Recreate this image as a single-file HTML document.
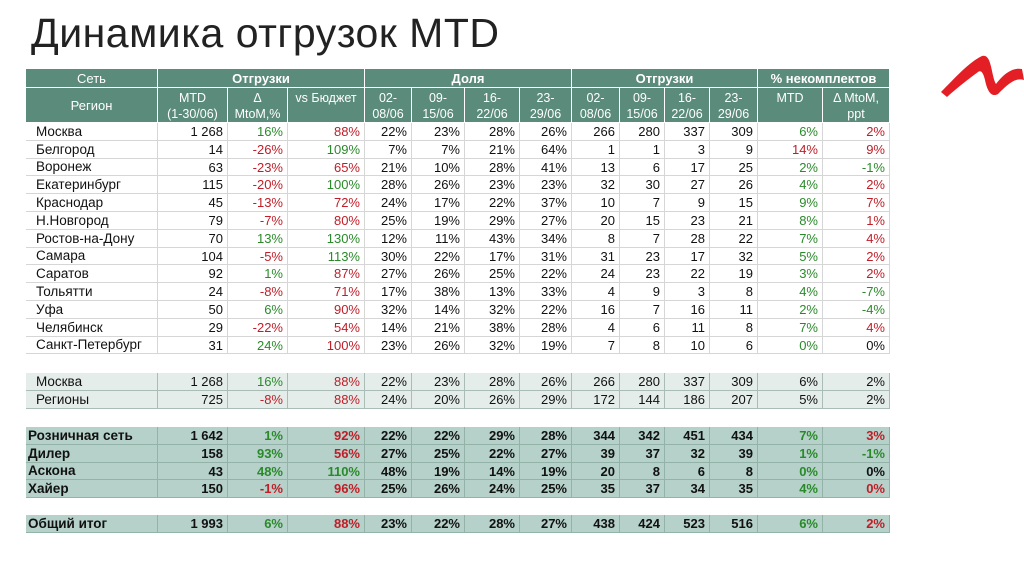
<!DOCTYPE html>
<html><head><meta charset="utf-8">
<style>
body{margin:0;width:1024px;height:574px;background:#fff;position:relative;overflow:hidden;font-family:"Liberation Sans","DejaVu Sans",sans-serif;}
#title{position:absolute;left:31px;top:10px;font-size:41px;color:#222;letter-spacing:0.5px;}
.c{position:absolute;box-sizing:border-box;font-size:13px;line-height:1;display:flex;align-items:center;justify-content:flex-end;padding-right:4px;white-space:nowrap;color:#111;}
.h{background:#5b8b7b;color:#fff;justify-content:center;padding:0;text-align:center;border-right:1px solid #fff;border-bottom:1px solid #fff;}
.g{color:#2a8a2a}.r{color:#c01d27}.k{color:#111}
.b{font-weight:bold}
</style></head><body>
<div id="title">Динамика отгрузок MTD</div>
<svg style="position:absolute;left:935px;top:40px" width="89" height="60">
<path d="M6 52 C20 38 34 22 47 16 C57 13 56 36 61 44 C67 36 76 27 87 29 L89 40 C80 37 72 45 63 54 C56 58 52 50 50 40 C48 32 46 30 43 32 C35 38 23 47 12 57 Z" fill="#e31e24"/>
</svg>
<div id="tbl"></div>
<script>
const cols=[26,158,228,288,365,412,465,520,572,620,665,710,758,823,890];
const regions=["Москва","Белгород","Воронеж","Екатеринбург","Краснодар","Н.Новгород","Ростов-на-Дону","Самара","Саратов","Тольятти","Уфа","Челябинск","Санкт-Петербург"];
const regionValues=[
["1 268","16%","88%","22%","23%","28%","26%","266","280","337","309","6%","2%"],
["14","-26%","109%","7%","7%","21%","64%","1","1","3","9","14%","9%"],
["63","-23%","65%","21%","10%","28%","41%","13","6","17","25","2%","-1%"],
["115","-20%","100%","28%","26%","23%","23%","32","30","27","26","4%","2%"],
["45","-13%","72%","24%","17%","22%","37%","10","7","9","15","9%","7%"],
["79","-7%","80%","25%","19%","29%","27%","20","15","23","21","8%","1%"],
["70","13%","130%","12%","11%","43%","34%","8","7","28","22","7%","4%"],
["104","-5%","113%","30%","22%","17%","31%","31","23","17","32","5%","2%"],
["92","1%","87%","27%","26%","25%","22%","24","23","22","19","3%","2%"],
["24","-8%","71%","17%","38%","13%","33%","4","9","3","8","4%","-7%"],
["50","6%","90%","32%","14%","32%","22%","16","7","16","11","2%","-4%"],
["29","-22%","54%","14%","21%","38%","28%","4","6","11","8","7%","4%"],
["31","24%","100%","23%","26%","32%","19%","7","8","10","6","0%","0%"]];
const regionColors=["grgr","rgrr","rrgg","rggr","rrgr","rrgr","gggr","rggr","grgr","rrgg","grgg","rrgr","grgk"];
const splitNames=["Москва","Регионы"];
const splitValues=[
["1 268","16%","88%","22%","23%","28%","26%","266","280","337","309","6%","2%"],
["725","-8%","88%","24%","20%","26%","29%","172","144","186","207","5%","2%"]];
const splitColors=["grkk","rrkk"];
const channels=["Розничная сеть","Дилер","Аскона","Хайер"];
const channelValues=[
["1 642","1%","92%","22%","22%","29%","28%","344","342","451","434","7%","3%"],
["158","93%","56%","27%","25%","22%","27%","39","37","32","39","1%","-1%"],
["43","48%","110%","48%","19%","14%","19%","20","8","6","8","0%","0%"],
["150","-1%","96%","25%","26%","24%","25%","35","37","34","35","4%","0%"]];
const channelColors=["grgr","grgg","gggk","rrgr"];
const totalValues=["1 993","6%","88%","23%","22%","28%","27%","438","424","523","516","6%","2%"];
const totalColors="grgr";

const T=document.getElementById('tbl');
function cell(x,y,w,h,txt,cls,name){
  const d=document.createElement('div');
  d.className='c '+cls;
  d.style.left=x+'px';d.style.top=y+'px';d.style.width=w+'px';d.style.height=h+'px';
  d.innerHTML=txt;
  
  
  T.appendChild(d);return d;
}
const H1=69,H2=88,H3=123;
cell(cols[0],H1,cols[1]-cols[0],H2-H1,'Сеть','h','header-network');
cell(cols[0],H2,cols[1]-cols[0],H3-H2,'Регион','h','header-region');
const groups=[[1,4,'Отгрузки'],[4,8,'Доля'],[8,12,'Отгрузки'],[12,14,'% некомплектов']];
groups.forEach((g,i)=>{cell(cols[g[0]],H1,cols[g[1]]-cols[g[0]],H2-H1,g[2],'h b','header-group-'+i);});
const sub=['MTD<br>(1-30/06)','Δ<br>MtoM,%','vs Бюджет','02-<br>08/06','09-<br>15/06','16-<br>22/06','23-<br>29/06','02-<br>08/06','09-<br>15/06','16-<br>22/06','23-<br>29/06','MTD','Δ MtoM,<br>ppt'];
sub.forEach((s,i)=>{const d=cell(cols[i+1],H2,cols[i+2]-cols[i+1],H3-H2,s,'h','header-col-'+i);d.style.alignItems='flex-start';d.style.paddingTop='2px';d.style.lineHeight='16px';d.style.fontSize='12.5px';});
const colorIdx={1:0,2:1,11:2,12:3};
function row(y,h,name,vals,colors,bg,bold,indent,border,nm){
  const bd=border||'#d6d6d6';
  const c0=cell(cols[0],y,cols[1]-cols[0],h,name,bold?'b':'',nm+'-label');
  c0.style.justifyContent='flex-start';c0.style.paddingLeft=indent+'px';c0.style.background=bg;
  c0.style.borderBottom='1px solid '+bd;c0.style.borderRight='1px solid '+bd;c0.style.fontSize='13.5px';
  vals.forEach((v,i)=>{
    let cls=bold?'b ':'';
    if(colorIdx[i]!==undefined)cls+=colors[colorIdx[i]];
    const c=cell(cols[i+1],y,cols[i+2]-cols[i+1],h,v,cls,nm+'-col-'+i);
    c.style.background=bg;c.style.borderBottom='1px solid '+bd;c.style.borderRight='1px solid '+bd;
  });
}
const RH=17.8;
function rowTop(base,i){return Math.round(base+i*RH);}
regions.forEach((r,i)=>row(rowTop(H3,i),rowTop(H3,i+1)-rowTop(H3,i),r,regionValues[i],regionColors[i],'#fff',false,10,'#d6d6d6','region-row-'+i));
splitNames.forEach((r,i)=>row(rowTop(373,i),rowTop(373,i+1)-rowTop(373,i),r,splitValues[i],splitColors[i],'#e4edea',false,10,'#a9bdb6','split-row-'+i));
channels.forEach((r,i)=>row(rowTop(427,i),rowTop(427,i+1)-rowTop(427,i),r,channelValues[i],channelColors[i],'#b5d1c9',true,2,'#93b3a9','channel-row-'+i));
row(515,18,'Общий итог',totalValues,totalColors,'#b5d1c9',true,2,'#93b3a9','total-row');
</script>
</body></html>
